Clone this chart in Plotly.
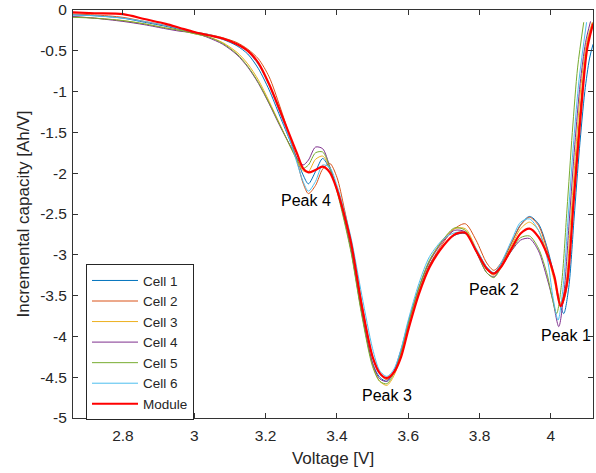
import plotly.graph_objects as go

# Shared voltage grid (V) for the main part of every curve
grid_v = [2.66, 2.72, 2.80, 2.86, 2.92, 2.96, 3.00, 3.04, 3.08, 3.12, 3.15, 3.18,
          3.21, 3.24, 3.27, 3.29, 3.305, 3.32, 3.34, 3.36, 3.38, 3.40, 3.42, 3.44,
          3.47, 3.50, 3.52, 3.54, 3.56, 3.58, 3.60, 3.63, 3.66, 3.70, 3.73, 3.76,
          3.79, 3.82, 3.84, 3.86, 3.89, 3.915, 3.94, 3.965, 3.99]

cell1_i = [-0.06, -0.07, -0.10, -0.15, -0.20, -0.24, -0.28, -0.31, -0.36, -0.44, -0.54, -0.72,
           -0.98, -1.30, -1.62, -1.85, -2.02, -2.13, -1.98, -1.82, -1.95, -2.20, -2.52, -2.90,
           -3.70, -4.33, -4.50, -4.55, -4.43, -4.20, -3.88, -3.45, -3.12, -2.88, -2.76, -2.74,
           -2.93, -3.15, -3.22, -3.12, -2.85, -2.63, -2.53, -2.62, -2.92]
cell1_tail_v = [4.01, 4.025, 4.036, 4.05, 4.065, 4.08, 4.095, 4.108, 4.118]
cell1_tail_i = [-3.28, -3.60, -3.72, -3.40, -2.55, -1.70, -1.00, -0.60, -0.42]

cell2_i = [-0.05, -0.06, -0.09, -0.14, -0.19, -0.23, -0.27, -0.30, -0.34, -0.40, -0.48, -0.60,
           -0.82, -1.18, -1.58, -1.88, -2.12, -2.25, -2.15, -1.95, -1.88, -2.05, -2.42, -2.85,
           -3.60, -4.25, -4.46, -4.53, -4.44, -4.22, -3.90, -3.46, -3.12, -2.84, -2.68, -2.62,
           -2.82, -3.10, -3.19, -3.10, -2.85, -2.64, -2.54, -2.64, -2.95]
cell2_tail_v = [4.01, 4.03, 4.045, 4.06, 4.075, 4.09, 4.105, 4.118]
cell2_tail_i = [-3.30, -3.62, -3.40, -2.50, -1.60, -0.85, -0.35, -0.15]

cell3_i = [-0.08, -0.10, -0.13, -0.17, -0.22, -0.25, -0.29, -0.33, -0.40, -0.52, -0.66, -0.86,
           -1.12, -1.40, -1.68, -1.86, -1.97, -1.98, -1.83, -1.79, -1.93, -2.20, -2.55, -2.95,
           -3.72, -4.35, -4.55, -4.60, -4.48, -4.22, -3.88, -3.42, -3.08, -2.80, -2.68, -2.68,
           -2.92, -3.18, -3.25, -3.14, -2.88, -2.68, -2.60, -2.70, -3.00]
cell3_tail_v = [4.01, 4.025, 4.04, 4.055, 4.07, 4.085, 4.10, 4.116]
cell3_tail_i = [-3.33, -3.60, -3.42, -2.60, -1.70, -0.90, -0.40, -0.15]

cell4_i = [-0.08, -0.10, -0.14, -0.18, -0.23, -0.26, -0.28, -0.34, -0.42, -0.55, -0.70, -0.90,
           -1.15, -1.42, -1.67, -1.83, -1.90, -1.84, -1.68, -1.70, -1.92, -2.20, -2.55, -2.95,
           -3.72, -4.33, -4.52, -4.55, -4.42, -4.16, -3.83, -3.40, -3.08, -2.82, -2.70, -2.72,
           -2.96, -3.22, -3.27, -3.15, -2.95, -2.82, -2.80, -2.95, -3.30]
cell4_tail_v = [4.005, 4.022, 4.037, 4.052, 4.067, 4.082, 4.097, 4.111]
cell4_tail_i = [-3.55, -3.88, -3.45, -2.55, -1.65, -0.90, -0.40, -0.14]

cell5_i = [-0.09, -0.10, -0.13, -0.17, -0.22, -0.25, -0.29, -0.33, -0.41, -0.54, -0.69, -0.89,
           -1.14, -1.41, -1.68, -1.85, -1.94, -1.90, -1.75, -1.74, -1.93, -2.22, -2.58, -2.98,
           -3.75, -4.37, -4.55, -4.58, -4.45, -4.18, -3.84, -3.40, -3.06, -2.80, -2.67, -2.70,
           -2.95, -3.22, -3.28, -3.16, -2.94, -2.79, -2.77, -2.92, -3.25]
cell5_tail_v = [4.002, 4.016, 4.03, 4.045, 4.06, 4.075, 4.092]
cell5_tail_i = [-3.50, -3.72, -3.35, -2.45, -1.50, -0.70, -0.15]

cell6_i = [-0.06, -0.07, -0.10, -0.14, -0.19, -0.23, -0.27, -0.30, -0.35, -0.42, -0.51, -0.67,
           -0.92, -1.26, -1.62, -1.90, -2.10, -2.22, -2.10, -1.90, -1.93, -2.15, -2.45, -2.80,
           -3.50, -4.15, -4.42, -4.49, -4.40, -4.15, -3.80, -3.35, -3.02, -2.80, -2.73, -2.73,
           -2.92, -3.15, -3.22, -3.10, -2.82, -2.60, -2.56, -2.70, -3.05]
cell6_tail_v = [4.005, 4.02, 4.034, 4.049, 4.064, 4.079, 4.10]
cell6_tail_i = [-3.50, -3.80, -3.40, -2.50, -1.60, -0.85, -0.15]

module_i = [-0.03, -0.04, -0.05, -0.11, -0.17, -0.22, -0.27, -0.31, -0.35, -0.42, -0.50, -0.65,
            -0.91, -1.23, -1.56, -1.78, -1.94, -1.99, -1.96, -1.92, -1.99, -2.20, -2.50, -2.86,
            -3.63, -4.25, -4.45, -4.51, -4.44, -4.25, -3.92, -3.48, -3.15, -2.88, -2.75, -2.73,
            -2.95, -3.17, -3.23, -3.15, -2.92, -2.74, -2.68, -2.78, -3.00]
module_tail_v = [4.01, 4.027, 4.045, 4.064, 4.083, 4.101, 4.118]
module_tail_i = [-3.27, -3.63, -3.35, -2.33, -1.31, -0.49, -0.17]

series_names = ["Cell 1", "Cell 2", "Cell 3", "Cell 4", "Cell 5", "Cell 6", "Module"]
series_colors = ["#0072BD", "#D95319", "#EDB120", "#7E2F8E", "#77AC30", "#4DBEEE", "#FF0000"]

peak_labels = ["Peak 4", "Peak 3", "Peak 2", "Peak 1"]
peak_v = [3.314, 3.539, 3.841, 4.041]
peak_i = [-2.33, -4.73, -3.43, -3.99]

x_ticks = [2.8, 3.0, 3.2, 3.4, 3.6, 3.8, 4.0]
x_tick_text = ["2.8", "3", "3.2", "3.4", "3.6", "3.8", "4"]
y_ticks = [0, -0.5, -1, -1.5, -2, -2.5, -3, -3.5, -4, -4.5, -5]
y_tick_text = ["0", "-0.5", "-1", "-1.5", "-2", "-2.5", "-3", "-3.5", "-4", "-4.5", "-5"]

series_data = [
    (grid_v + cell1_tail_v, cell1_i + cell1_tail_i),
    (grid_v + cell2_tail_v, cell2_i + cell2_tail_i),
    (grid_v + cell3_tail_v, cell3_i + cell3_tail_i),
    (grid_v + cell4_tail_v, cell4_i + cell4_tail_i),
    (grid_v + cell5_tail_v, cell5_i + cell5_tail_i),
    (grid_v + cell6_tail_v, cell6_i + cell6_tail_i),
    (grid_v + module_tail_v, module_i + module_tail_i),
]

FONT = "Liberation Sans, Arial, sans-serif"

fig = go.Figure()
for name, color, (vx, iy) in zip(series_names, series_colors, series_data):
    fig.add_trace(go.Scatter(
        x=vx, y=iy, mode="lines", name=name,
        line=dict(color=color, width=2.2 if name == "Module" else 1, shape="spline", smoothing=0.8),
    ))

for txt, px, py in zip(peak_labels, peak_v, peak_i):
    fig.add_annotation(x=px, y=py, text=txt, showarrow=False,
                       font=dict(family=FONT, size=16, color="#000000"))

axis_common = dict(
    showgrid=False, zeroline=False, showline=True, linecolor="#333333", linewidth=1,
    mirror="ticks", ticks="inside", ticklen=5, tickcolor="#333333", automargin=False,
    tickfont=dict(family=FONT, size=15.5, color="#262626"),
)

fig.update_layout(
    width=596, height=473,
    margin=dict(l=73, r=3, t=10, b=55),
    plot_bgcolor="white", paper_bgcolor="white",
    xaxis=dict(range=[2.66, 4.118], tickvals=x_ticks, ticktext=x_tick_text,
               ticklabelstandoff=3,
               title=dict(text="Voltage [V]", standoff=9,
                          font=dict(family=FONT, size=17, color="#262626")),
               **axis_common),
    yaxis=dict(range=[-5, 0], tickvals=y_ticks, ticktext=y_tick_text,
               ticklabelstandoff=2,
               title=dict(text="Incremental capacity [Ah/V]", standoff=6,
                          font=dict(family=FONT, size=17, color="#262626")),
               **axis_common),
    legend=dict(x=0.025, y=0.377, xanchor="left", yanchor="top",
                bgcolor="white", bordercolor="#262626", borderwidth=1,
                font=dict(family=FONT, size=13.5, color="#262626"),
                tracegroupgap=0, itemwidth=46),
    showlegend=True,
)

fig.write_html("out.html", config={"displayModeBar": False},
               post_script="document.body.style.margin='0';document.body.style.overflow='hidden';")
